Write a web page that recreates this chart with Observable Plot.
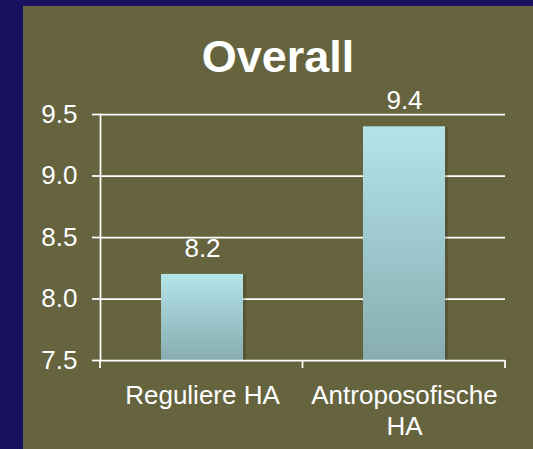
<!DOCTYPE html>
<html><head><meta charset="utf-8">
<script src="https://cdn.jsdelivr.net/npm/d3@7"></script>
<script src="https://cdn.jsdelivr.net/npm/@observablehq/plot@0.6"></script>
<style>
html,body{margin:0;padding:0;background:#17115f;width:533px;height:449px;overflow:hidden;}
#panel{position:absolute;left:23px;top:6px;width:510px;height:443px;background:#66643f;}
#title{position:absolute;left:0;top:28px;width:510px;text-align:center;font:bold 45px "Liberation Sans",Arial,sans-serif;line-height:45px;color:#fff;}
#chart{position:absolute;left:0;top:0;}
</style></head><body>
<div id="panel"><div id="chart"></div><div id="title">Overall</div></div>
<script>
const categories = ["Reguliere HA", "Antroposofische HA"];
const values = [8.2, 9.4];
const yTicks = [7.5, 8.0, 8.5, 9.0, 9.5];
const data = categories.map((c, i) => ({category: c, value: values[i]}));
const font = '"Liberation Sans", Arial, sans-serif';

const edgeTicks = (index, scales, vals, dim) => {
  const g = d3.create("svg:g").attr("stroke", "white").attr("stroke-width", 1.75);
  const x0 = dim.marginLeft, x2 = dim.width - dim.marginRight, y = dim.height - dim.marginBottom;
  for (const x of [x0, (x0 + x2) / 2, x2]) {
    g.append("line").attr("x1", x).attr("x2", x).attr("y1", y).attr("y2", y + 8);
  }
  return g.node();
};

const chart = Plot.plot({
  width: 510, height: 443,
  marginLeft: 77, marginRight: 28, marginTop: 108, marginBottom: 89,
  style: {background: "transparent", color: "white", fontFamily: font, overflow: "visible"},
  x: {domain: categories, paddingInner: 0.595, paddingOuter: 0.2975, axis: null},
  y: {domain: [7.5, 9.5], axis: null},
  marks: [
    Plot.ruleY(yTicks.slice(1), {stroke: "white", strokeWidth: 1.75}),
    Plot.barY(data, {x: "category", y1: 7.5, y2: "value", fill: "black", fillOpacity: 0.14, dx: 3, dy: 1}),
    Plot.barY(data, {x: "category", y1: 7.5, y2: "value", fill: "url(#barGrad)"}),
    Plot.ruleY([7.5], {stroke: "white", strokeWidth: 1.75}),
    Plot.frame({anchor: "left", stroke: "white", strokeWidth: 1.75}),
    Plot.axisY({ticks: yTicks, tickSize: 8, tickPadding: 15, tickFormat: d3.format(".1f"), label: null,
      stroke: "white", strokeWidth: 1.75, fontSize: 26, fill: "white"}),
    edgeTicks,
    Plot.text(data, {x: "category", y: "value", text: d => d.value.toFixed(1), dy: -26, fill: "white", fontSize: 26}),
    Plot.text(data, {x: "category", text: "category", frameAnchor: "bottom", lineAnchor: "top", dy: 22,
      lineWidth: 8, lineHeight: 1.17, fill: "white", fontSize: 26})
  ]
});

const svg = d3.select(chart);
const defs = svg.insert("defs", ":first-child");
const grad = defs.append("linearGradient").attr("id", "barGrad")
  .attr("x1", 0).attr("y1", 0).attr("x2", 0).attr("y2", 1);
grad.append("stop").attr("offset", "0%").attr("stop-color", "#b4e4e9");
grad.append("stop").attr("offset", "100%").attr("stop-color", "#87adb1");

document.getElementById("chart").appendChild(chart);
</script>
</body></html>
